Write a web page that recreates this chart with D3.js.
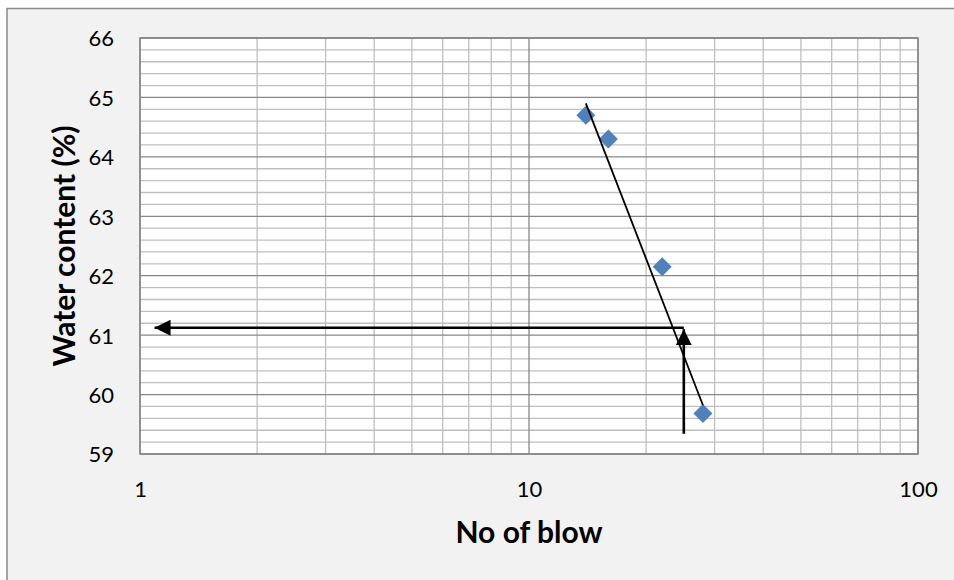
<!DOCTYPE html>
<html><head><meta charset="utf-8">
<script src="https://cdn.jsdelivr.net/npm/d3@7"></script>
<style>html,body{margin:0;padding:0;background:#fff;}svg{display:block;}</style>
</head><body>
<svg id="c" width="954" height="580"></svg>
<script>
const blows = [14, 16, 22, 28];
const water = [64.7, 64.3, 62.15, 59.68];
const trendBlows = [14, 28];
const trendWater = [64.9, 59.82];
const arrowH = {from: [25, 61.125], to: [1.09, 61.125]};
const arrowV = {from: [25, 59.34], to: [25, 61.1]};
const xTicks = [1, 10, 100];
const yTicks = [59, 60, 61, 62, 63, 64, 65, 66];
const xTitle = "No of blow";
const yTitle = "Water content (%)";

const svg = d3.select("#c");
const m = {l: 140, r: 918, t: 38, b: 454};

svg.append("rect").attr("x", 7).attr("y", 8.5).attr("width", 960).attr("height", 600)
  .attr("fill", "#f2f2f2").attr("stroke", "#898989").attr("stroke-width", 1.5);

const x = d3.scaleLog().domain([1, 100]).range([m.l, m.r]);
const y = d3.scaleLinear().domain([59, 66]).range([m.b, m.t]);

svg.append("rect").attr("x", m.l).attr("y", m.t).attr("width", m.r - m.l).attr("height", m.b - m.t).attr("fill", "#fff");

const yMinor = d3.range(59, 66.001, 0.2).map(v => +v.toFixed(1));
const xMinor = [];
[1, 10].forEach(d => { for (let k = 2; k <= 9; k++) xMinor.push(d * k); });

const g = svg.append("g");
g.selectAll(".ym").data(yMinor.filter(v => !yTicks.includes(v))).enter().append("line")
  .attr("x1", m.l).attr("x2", m.r).attr("y1", d => y(d)).attr("y2", d => y(d))
  .attr("stroke", "#bfbfbf").attr("stroke-width", 1.3);
g.selectAll(".xm").data(xMinor).enter().append("line")
  .attr("y1", m.t).attr("y2", m.b).attr("x1", d => x(d)).attr("x2", d => x(d))
  .attr("stroke", "#bfbfbf").attr("stroke-width", 1.3);
g.selectAll(".yM").data(yTicks).enter().append("line")
  .attr("x1", m.l).attr("x2", m.r).attr("y1", d => y(d)).attr("y2", d => y(d))
  .attr("stroke", "#878787").attr("stroke-width", 1.3);
g.selectAll(".xM").data(xTicks).enter().append("line")
  .attr("y1", m.t).attr("y2", m.b).attr("x1", d => x(d)).attr("x2", d => x(d))
  .attr("stroke", "#878787").attr("stroke-width", 1.3);
svg.append("rect").attr("x", m.l).attr("y", m.t).attr("width", m.r - m.l).attr("height", m.b - m.t)
  .attr("fill", "none").attr("stroke", "#878787").attr("stroke-width", 1.5);

const font = "Lato, 'Open Sans', sans-serif";
const yAxis = svg.append("g").attr("transform", `translate(${m.l},0)`)
  .call(d3.axisLeft(y).tickValues(yTicks).tickFormat(d3.format("d")).tickSize(0).tickPadding(26));
yAxis.select(".domain").remove();
yAxis.selectAll("text").attr("font-family", font).attr("font-size", 22).attr("fill", "#000").attr("dy", "0.36em");
const xAxis = svg.append("g").attr("transform", `translate(0,${m.b})`)
  .call(d3.axisBottom(x).tickValues(xTicks).tickFormat(d3.format("d")).tickSize(0).tickPadding(27));
xAxis.select(".domain").remove();
xAxis.selectAll("text").attr("font-family", font).attr("font-size", 22).attr("fill", "#000");

svg.append("text").attr("x", (m.l + m.r) / 2).attr("y", 543).attr("text-anchor", "middle")
  .attr("font-family", font).attr("font-weight", "bold").attr("font-size", 30).text(xTitle);
svg.append("text").attr("transform", `translate(75,${(m.t + m.b) / 2}) rotate(-90)`).attr("text-anchor", "middle")
  .attr("font-family", font).attr("font-weight", "bold").attr("font-size", 30).text(yTitle);

const line = d3.line().x(d => x(d[0])).y(d => y(d[1]));

svg.selectAll(".pt").data(blows.map((b, i) => [b, water[i]])).enter().append("path")
  .attr("d", d3.symbol().type(d3.symbolDiamond2).size(230))
  .attr("transform", d => `translate(${x(d[0])},${y(d[1])})`)
  .attr("fill", "#4f81bd");

svg.append("path").datum(trendBlows.map((b, i) => [b, trendWater[i]])).attr("d", line)
  .attr("fill", "none").attr("stroke", "#000").attr("stroke-width", 1.8);

const defs = svg.append("defs");
defs.append("marker").attr("id", "ah").attr("viewBox", "0 0 10 10").attr("refX", 10).attr("refY", 5)
  .attr("markerUnits", "userSpaceOnUse").attr("markerWidth", 16).attr("markerHeight", 16).attr("orient", "auto")
  .append("path").attr("d", "M0,0 L10,5 L0,10 Z").attr("fill", "#000");
[arrowH, arrowV].forEach(a => {
  svg.append("path").datum([a.from, a.to]).attr("d", line).attr("fill", "none")
    .attr("stroke", "#000").attr("stroke-width", 2.6).attr("marker-end", "url(#ah)");
});
</script>
</body></html>
